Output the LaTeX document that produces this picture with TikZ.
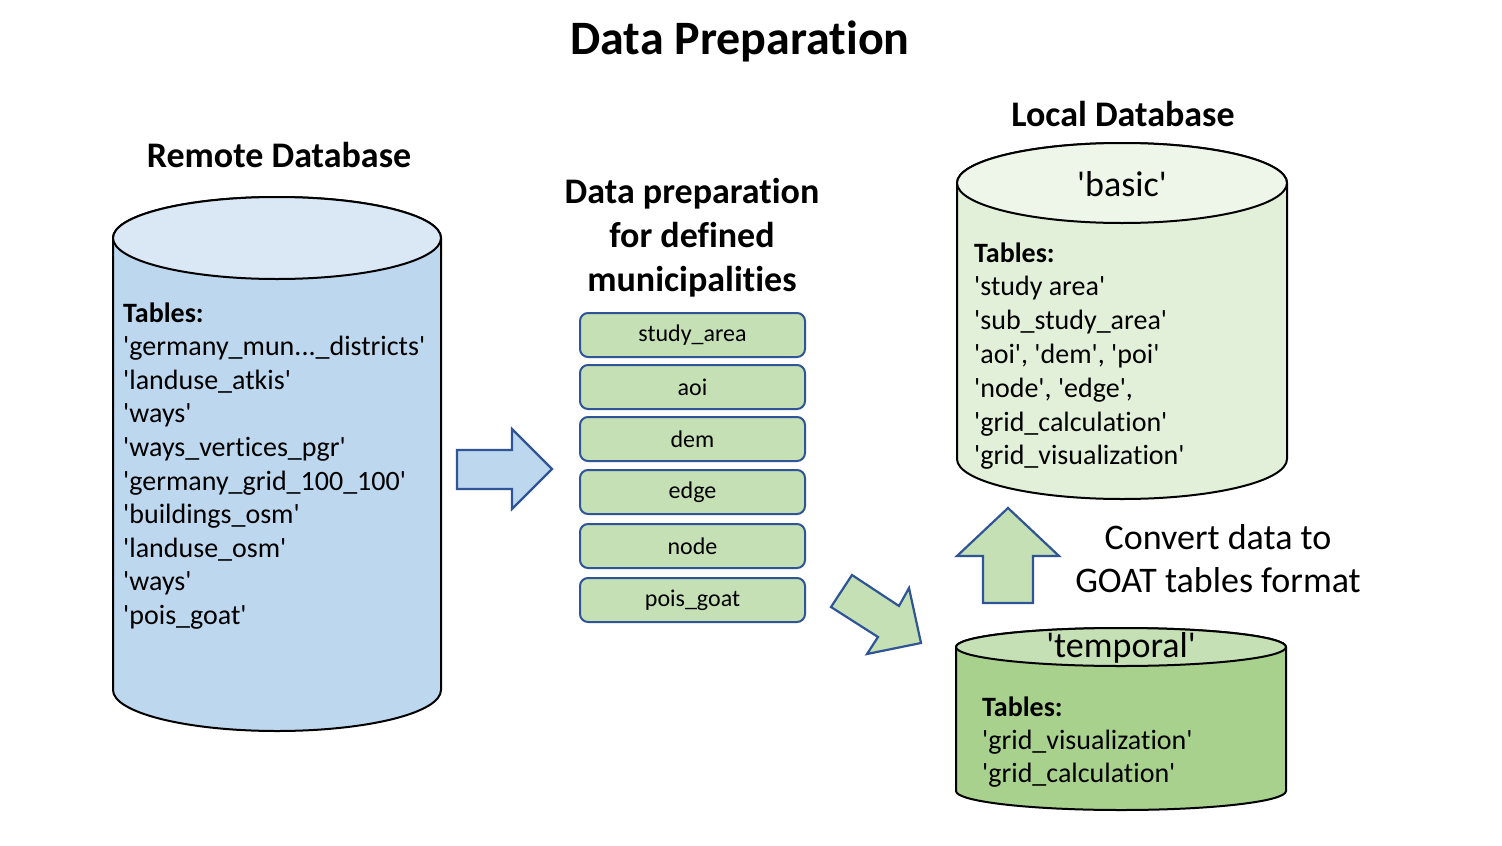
\documentclass[tikz,border=0pt]{standalone}
\usepackage{fontspec}
\setmainfont{Carlito}[Ligatures={TeXOff,CommonOff}]
\definecolor{remBody}{HTML}{BDD7EE}
\definecolor{remTop}{HTML}{DAE8F6}
\definecolor{basBody}{HTML}{E2F0D9}
\definecolor{basTop}{HTML}{EEF6E9}
\definecolor{tmpBody}{HTML}{A9D18E}
\definecolor{tmpTop}{HTML}{C5E0B4}
\definecolor{boxFill}{HTML}{C5E0B4}
\definecolor{navy}{HTML}{2F5597}
\newcommand\mycyl[8]{% x1 x2 ytop ybot ry body top name
  \pgfmathsetmacro\rx{(#2-#1)/2}
  \pgfmathsetmacro\cx{(#2+#1)/2}
  \draw[cylline,fill=#6] (#1,-#3) -- (#1,-#4) arc[start angle=180,end angle=360,x radius=\rx,y radius=#5] -- (#2,-#3) arc[start angle=0,end angle=180,x radius=\rx,y radius=#5] -- cycle;
  \draw[cylline,fill=#7] (\cx,-#3) ellipse[x radius=\rx,y radius=#5];
  \coordinate (#8) at (\cx,-#3);
}
\tikzset{
  x=1pt,y=1pt,
  cylline/.style={draw=black,line width=2pt},
  blockarrow/.style={draw=navy,line width=2.2pt,line join=miter},
  tbl/.style={anchor=base west,inner sep=0pt,font=\fontsize{28}{34}\selectfont},
  tblh/.style={anchor=base west,inner sep=0pt,font=\bfseries\fontsize{28}{34}\selectfont},
  heading/.style={inner sep=0pt,font=\bfseries\fontsize{36}{44}\selectfont},
  stepbox/.style={draw=navy,line width=2pt,fill=boxFill,rounded corners=8pt,minimum width=225pt,minimum height=44pt,inner sep=0pt,font=\fontsize{24}{28}\selectfont},
}
\begin{document}
\begin{tikzpicture}
\useasboundingbox (0,0) rectangle (1502,-846);
\fill[white] (0,0) rectangle (1502,-846);

% title
\node[inner sep=0pt,font=\bfseries\fontsize{48}{56}\selectfont] (title) at (740,-41) {Data Preparation};

% remote database
\node[heading] (remh) at (279,-155) {Remote Database};
\mycyl{113}{441}{238}{690}{41}{remBody}{remTop}{remc}
\node[tblh] (rt0) at (123,-322) {Tables:};
\node[tbl] (rt1) at (123,-355.6) {'germany\_mun...\_districts'};
\node[tbl] (rt2) at (123,-389.2) {'landuse\_atkis'};
\node[tbl] (rt3) at (123,-422.8) {'ways'};
\node[tbl] (rt4) at (123,-456.4) {'ways\_vertices\_pgr'};
\node[tbl] (rt5) at (123,-490) {'germany\_grid\_100\_100'};
\node[tbl] (rt6) at (123,-523.6) {'buildings\_osm'};
\node[tbl] (rt7) at (123,-557.2) {'landuse\_osm'};
\node[tbl] (rt8) at (123,-590.8) {'ways'};
\node[tbl] (rt9) at (123,-624.4) {'pois\_goat'};

% block arrow right
\draw[blockarrow,fill=remBody] (457,-450) -- (512,-450) -- (512,-429) -- (552,-469) -- (512,-509) -- (512,-489) -- (457,-489) -- cycle;

% middle
\node[heading,align=center,font=\bfseries\fontsize{36}{44}\selectfont] (midh) at (692,-238) {Data preparation\\for defined\\municipalities};
\node[stepbox] (b1) at (692.5,-335) {study\_area};
\node[stepbox] (b2) at (692.5,-387) {aoi};
\node[stepbox] (b3) at (692.5,-439) {dem};
\node[stepbox] (b4) at (692.5,-492) {edge};
\node[stepbox] (b5) at (692.5,-546) {node};
\node[stepbox] (b6) at (692.5,-600) {pois\_goat};

% diagonal arrow
\draw[blockarrow,fill=boxFill] (852,-575) -- (899,-606) -- (909,-588) -- (921,-643) -- (867,-654) -- (878,-637) -- (831,-607) -- cycle;

% local database
\node[heading] (loch) at (1123,-114) {Local Database};
\mycyl{957}{1287}{183}{459}{40}{basBody}{basTop}{basc}
\node[inner sep=0pt,font=\fontsize{36}{42}\selectfont] (basname) at (1122,-184) {'basic'};
\node[tblh] (bt0) at (974,-262) {Tables:};
\node[tbl] (bt1) at (974,-295.8) {'study area'};
\node[tbl] (bt2) at (974,-329.6) {'sub\_study\_area'};
\node[tbl] (bt3) at (974,-363.4) {'aoi', 'dem', 'poi'};
\node[tbl] (bt4) at (974,-397.2) {'node', 'edge',};
\node[tbl] (bt5) at (974,-431) {'grid\_calculation'};
\node[tbl] (bt6) at (974,-464.8) {'grid\_visualization'};

% up arrow
\draw[blockarrow,fill=boxFill] (983,-603) -- (983,-556) -- (957,-556) -- (1008,-508) -- (1059,-556) -- (1033,-556) -- (1033,-603) -- cycle;
\node[inner sep=0pt,font=\fontsize{36}{43}\selectfont,align=center] (conv) at (1218,-559) {Convert data to\\GOAT tables format};

% temporal
\mycyl{956}{1286}{647}{791}{19}{tmpBody}{tmpTop}{tmpc}
\node[inner sep=0pt,font=\fontsize{36}{42}\selectfont] (tmpname) at (1121,-648) {'temporal'};
\node[tblh] (tt0) at (982,-716) {Tables:};
\node[tbl] (tt1) at (982,-749) {'grid\_visualization'};
\node[tbl] (tt2) at (982,-782) {'grid\_calculation'};
\end{tikzpicture}
\end{document}
